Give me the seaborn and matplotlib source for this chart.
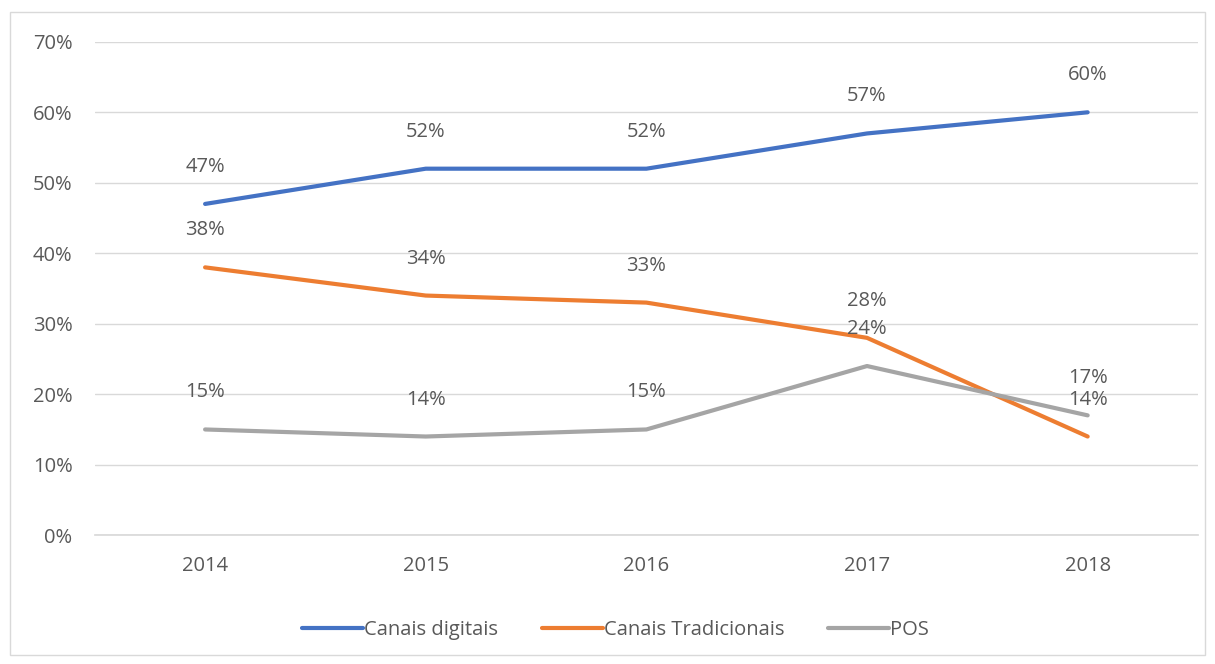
import matplotlib
matplotlib.use("Agg")
import matplotlib.pyplot as plt
import seaborn as sns
import pandas as pd
from matplotlib.patches import Rectangle

years = ["2014", "2015", "2016", "2017", "2018"]
digitais = [47, 52, 52, 57, 60]
tradicionais = [38, 34, 33, 28, 14]
pos = [15, 14, 15, 24, 17]
series_names = ["Canais digitais", "Canais Tradicionais", "POS"]
y_ticks = [0, 10, 20, 30, 40, 50, 60, 70]

df = pd.DataFrame({
    "Ano": years * 3,
    "Valor": digitais + tradicionais + pos,
    "Série": [series_names[0]] * 5 + [series_names[1]] * 5 + [series_names[2]] * 5,
})

sns.set_theme(style="white")
plt.rcParams['font.family'] = ['Open Sans', 'DejaVu Sans']
text_color = "#595959"
fs = 14.5
palette = {series_names[0]: "#4472C4", series_names[1]: "#ED7D31", series_names[2]: "#A5A5A5"}

fig = plt.figure(figsize=(12.15, 6.64), dpi=100)
ax = fig.add_axes([0.078, 0.194, 0.908, 0.743])

sns.lineplot(data=df, x="Ano", y="Valor", hue="Série", palette=palette,
             linewidth=3, ax=ax, sort=False)

ax.set_xlim(-0.5, 4.5)
ax.set_ylim(0, 70)
ax.set_yticks(y_ticks)
ax.set_yticklabels([f"{v}%" for v in y_ticks])
ax.yaxis.grid(True, color="#D9D9D9", linewidth=1)
ax.set_axisbelow(True)
for s in ["top", "right", "left"]:
    ax.spines[s].set_visible(False)
ax.spines["bottom"].set_color("#D9D9D9")
ax.tick_params(axis="both", colors=text_color, labelsize=fs, length=0)
ax.tick_params(axis="y", pad=16)
ax.tick_params(axis="x", pad=15)
ax.set_xlabel("")
ax.set_ylabel("")

for vals in [digitais, tradicionais, pos]:
    for i, v in enumerate(vals):
        ax.annotate(f"{v}%", (i, v), xytext=(0, 37), textcoords="offset pixels",
                    ha="center", va="center", fontsize=fs, color=text_color)

leg = ax.legend(loc="upper center", bbox_to_anchor=(0.472, -0.135), ncol=3, frameon=False,
                fontsize=fs, handlelength=3, handletextpad=0.05, columnspacing=2.2)
for t in leg.get_texts():
    t.set_color(text_color)
for line in leg.get_lines():
    line.set_linewidth(3)

fig.patches.append(Rectangle((10 / 1215, 1 - 655 / 664), 1195 / 1215, 643 / 664,
                             transform=fig.transFigure, fill=False,
                             edgecolor="#D9D9D9", linewidth=1))

fig.savefig("out.png", dpi=100)
